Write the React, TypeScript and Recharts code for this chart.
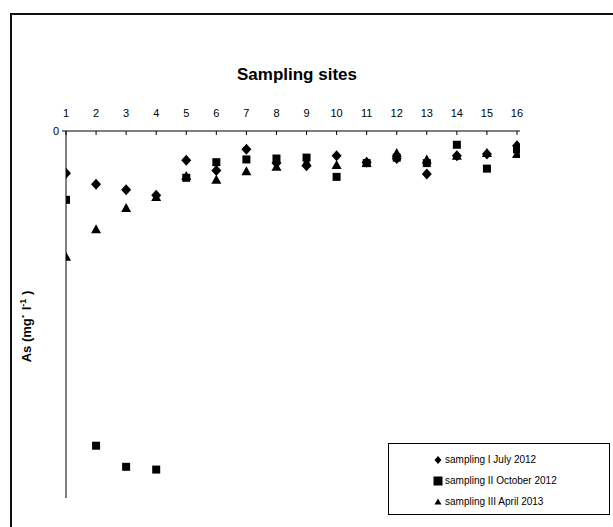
import React from "react";
import { ScatterChart, Scatter, XAxis, YAxis, Legend } from "recharts";

const sites = [1, 2, 3, 4, 5, 6, 7, 8, 9, 10, 11, 12, 13, 14, 15, 16];
const samplingI = [0.046, 0.058, 0.064, 0.07, 0.032, 0.043, 0.02, 0.035, 0.038, 0.027, 0.034, 0.03, 0.047, 0.027, 0.025, 0.016];
const samplingII = [0.075, 0.343, 0.366, 0.369, 0.051, 0.034, 0.031, 0.03, 0.029, 0.05, 0.035, 0.029, 0.035, 0.015, 0.041, 0.02];
const samplingIII = [0.137, 0.107, 0.084, 0.072, 0.049, 0.053, 0.044, 0.039, 0.034, 0.037, 0.035, 0.024, 0.031, 0.027, 0.024, 0.025];
const seriesNames = ["sampling I July 2012", "sampling II October 2012", "sampling III April 2013"];

const toPoints = (vals: number[]) => sites.map((s, i) => ({ site: s, as: vals[i] }));

const FONT = "'Liberation Sans', Arial, sans-serif";

const Diamond = ({ cx, cy, s = 5 }: any) => (
  <polygon points={`${cx},${cy - s - 0.5} ${cx + s},${cy} ${cx},${cy + s + 0.5} ${cx - s},${cy}`} fill="#000" />
);
const Square = ({ cx, cy, s = 4 }: any) => <rect x={cx - s} y={cy - s} width={s * 2} height={s * 2} fill="#000" />;
const Triangle = ({ cx, cy, s = 5 }: any) => (
  <polygon points={`${cx},${cy - s} ${cx + s},${cy + s - 1} ${cx - s},${cy + s - 1}`} fill="#000" />
);

const shapes = [Diamond, Square, Triangle];

const TopTick = ({ x, y, payload }: any) => (
  <g>
    <line x1={x} y1={y} x2={x} y2={y + 4} stroke="#000" />
    <text x={x} y={y - 14} textAnchor="middle" fontSize={11} fontFamily={FONT} fill="#000">
      {payload.value}
    </text>
  </g>
);

const YLabel = ({ viewBox }: any) => {
  const x = viewBox.x + 25;
  const y = viewBox.y + viewBox.height / 2 + 12;
  return (
    <text x={x} y={y} transform={`rotate(-90 ${x} ${y})`} textAnchor="middle" fontSize={13} fontWeight="bold" fontFamily={FONT} fill="#000">
      As (mg
      <tspan dy={-4}>·</tspan>
      <tspan dy={4}> l</tspan>
      <tspan dy={-5} fontSize={9}>-1</tspan>
      <tspan dy={5}> )</tspan>
    </text>
  );
};

const LegendBox = () => (
  <div
    style={{
      border: "1px solid #000",
      boxSizing: "border-box",
      width: 222,
      height: 72,
      padding: "5px 0 0 44px",
      fontFamily: FONT,
      fontSize: 10,
      background: "#fff",
    }}
  >
    {seriesNames.map((n, i) => {
      const Shape = shapes[i];
      return (
        <div key={n} style={{ display: "flex", alignItems: "center", height: 21 }}>
          <svg width={10} height={10} style={{ marginRight: 2 }}>
            <Shape cx={5} cy={5} s={i === 1 ? 4.5 : 3.5} />
          </svg>
          <span>{n}</span>
        </div>
      );
    })}
  </div>
);

export default function App() {
  return (
    <div style={{ position: "absolute", left: 0, top: 0, width: 613, height: 527, overflow: "hidden", background: "#fff" }}>
      <div
        style={{
          position: "absolute",
          left: 10,
          top: 13,
          width: 700,
          height: 600,
          borderLeft: "2px solid #111",
          borderTop: "2px solid #111",
        }}
      />
      <div style={{ position: "absolute", left: 0, top: 0 }}>
        <ScatterChart width={613} height={527} margin={{ top: 101, right: 93, bottom: 29, left: 6 }}>
          <XAxis
            type="number"
            dataKey="site"
            orientation="top"
            domain={[1, 16.1]}
            ticks={sites}
            allowDataOverflow
            height={30}
            tickLine={false}
            tickSize={0}
            tickMargin={0}
            tick={<TopTick />}
            axisLine={{ stroke: "#000" }}
            label={{ value: "Sampling sites", position: "top", offset: 21, dx: 4, fontSize: 17, fontWeight: "bold", fontFamily: FONT, fill: "#000" }}
          />
          <YAxis
            type="number"
            dataKey="as"
            reversed
            domain={[0, 0.4]}
            ticks={[0]}
            width={60}
            tickSize={4}
            tickMargin={3}
            tick={{ fontSize: 11, fontFamily: FONT, fill: "#000" }}
            tickLine={{ stroke: "#000" }}
            axisLine={{ stroke: "#000" }}
            label={<YLabel />}
          />
          <Scatter name={seriesNames[0]} data={toPoints(samplingI)} shape={<Diamond />} isAnimationActive={false} />
          <Scatter name={seriesNames[1]} data={toPoints(samplingII)} shape={<Square />} isAnimationActive={false} />
          <Scatter name={seriesNames[2]} data={toPoints(samplingIII)} shape={<Triangle />} isAnimationActive={false} />
          <Legend
            layout="horizontal"
            verticalAlign="middle"
            align="center"
            wrapperStyle={{ left: 388, top: 443, width: 222, height: 72 }}
            content={<LegendBox />}
          />
        </ScatterChart>
      </div>
    </div>
  );
}
